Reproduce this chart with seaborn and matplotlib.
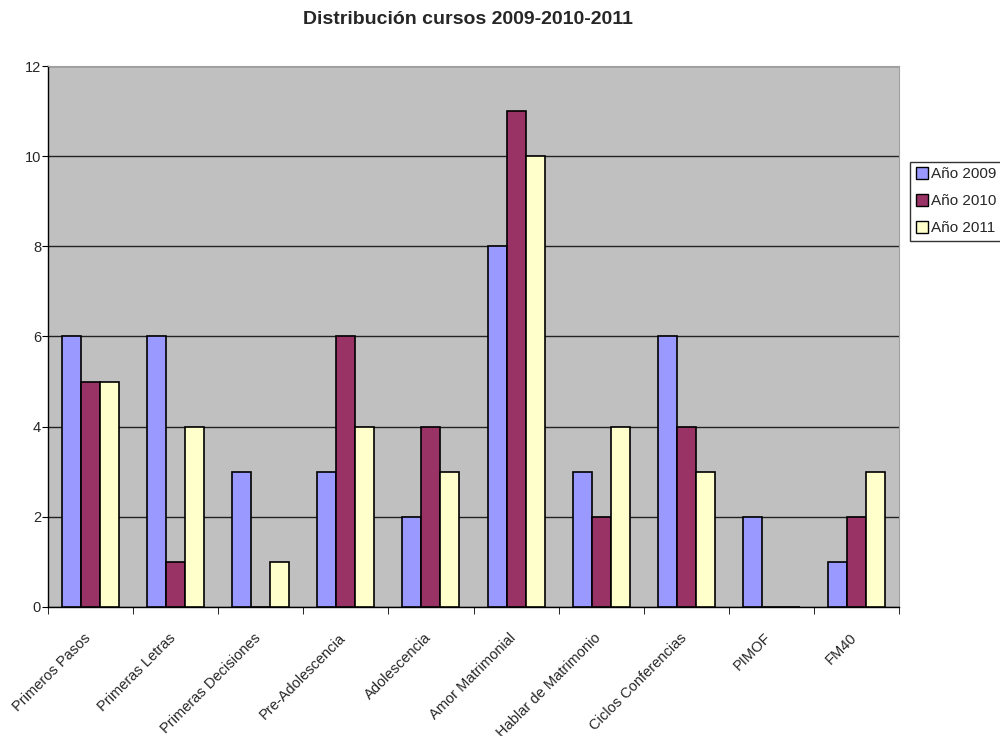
import matplotlib
matplotlib.use("Agg")
import matplotlib.pyplot as plt
import matplotlib.transforms as mtransforms
import numpy as np
import pandas as pd
import seaborn as sns

# ---------------------------------------------------------------------------
# Data
# ---------------------------------------------------------------------------
CURSOS = [
    "Primeros Pasos",
    "Primeras Letras",
    "Primeras Decisiones",
    "Pre-Adolescencia",
    "Adolescencia",
    "Amor Matrimonial",
    "Hablar de Matrimonio",
    "Ciclos Conferencias",
    "PIMOF",
    "FM40",
]
ANO_2009 = [6, 6, 3, 3, 2, 8, 3, 6, 2, 1]
ANO_2010 = [5, 1, 0, 6, 4, 11, 2, 4, 0, 2]
ANO_2011 = [5, 4, 1, 4, 3, 10, 4, 3, 0, 3]
SERIES = ["Año 2009", "Año 2010", "Año 2011"]
COLORS = ["#9999FF", "#993366", "#FFFFCC"]

df = pd.DataFrame({
    "Curso": CURSOS * 3,
    "Serie": np.repeat(SERIES, len(CURSOS)),
    "Valor": ANO_2009 + ANO_2010 + ANO_2011,
})

sns.set_style("white")
plt.rcParams["font.family"] = ["Liberation Sans", "DejaVu Sans"]

fig = plt.figure(figsize=(10, 7.36), dpi=100)
ax = fig.add_axes([0.048, 0.1753, 0.851, 0.735])
ax.set_facecolor("#C0C0C0")

sns.barplot(
    data=df, x="Curso", y="Valor", hue="Serie", order=CURSOS, hue_order=SERIES,
    palette=COLORS, edgecolor="black", linewidth=1.2, width=0.67, gap=0,
    saturation=1, ax=ax, legend=False, zorder=3,
)

ax.set_ylim(0, 12)
ax.set_xlim(-0.5, len(CURSOS) - 0.5)
ax.set_yticks(range(0, 13, 2))
ax.yaxis.grid(True, color="#222222", linewidth=1)
ax.set_axisbelow(True)
ax.set_xlabel("")
ax.set_ylabel("")

# category labels at centre, tick marks at boundaries
ax.set_xticks(range(len(CURSOS)))
ax.set_xticklabels(CURSOS, rotation=45, ha="right", rotation_mode="anchor", fontsize=10.5)
ax.tick_params(axis="x", which="major", length=0, pad=17)
shift = mtransforms.ScaledTranslation(-0.07, 0, fig.dpi_scale_trans)
for lbl in ax.get_xticklabels():
    lbl.set_transform(lbl.get_transform() + shift)
ax.set_xticks(np.arange(-0.5, len(CURSOS)), minor=True)
ax.tick_params(axis="x", which="minor", length=5, direction="out", color="black", bottom=True)
ax.tick_params(axis="y", length=4, direction="out", color="black", left=True, labelsize=10.5, pad=1)

for side in ["top", "right"]:
    ax.spines[side].set_color("#A0A0A0")
for side in ["left", "bottom"]:
    ax.spines[side].set_color("black")
    ax.spines[side].set_linewidth(1)

fig.text(0.468, 0.973, "Distribución cursos 2009-2010-2011", ha="center", va="center",
         fontsize=14, fontweight="bold")

handles = [
    plt.Line2D([], [], marker="s", linestyle="none", markersize=8,
               markerfacecolor=c, markeredgecolor="black", label=s)
    for s, c in zip(SERIES, COLORS)
]
leg = fig.legend(
    handles=handles, loc="upper left", bbox_to_anchor=(0.910, 0.780),
    frameon=True, fancybox=False, edgecolor="black", fontsize=11,
    handletextpad=0.15, borderpad=0.35, labelspacing=0.85, handlelength=0.9,
    borderaxespad=0,
)
leg.get_frame().set_linewidth(1)

fig.savefig("out.png", dpi=100)
